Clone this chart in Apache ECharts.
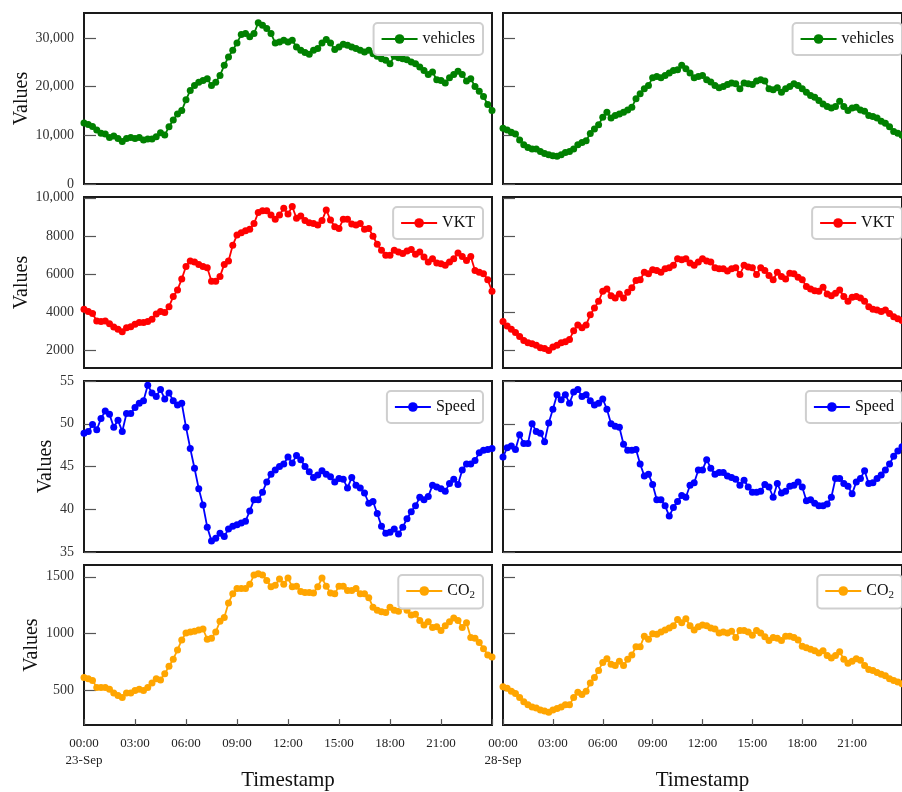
<!DOCTYPE html>
<html>
<head>
<meta charset="utf-8">
<script src="https://cdn.jsdelivr.net/npm/echarts@6/dist/echarts.min.js"></script>
<style>
  html, body { margin: 0; padding: 0; background: #fff; }
  #chart { width: 902px; height: 792px; }
</style>
</head>
<body>
<div id="chart"></div>
<script>
// Traffic indicators sampled every 15 minutes on two days (23-Sep and 28-Sep).
const dayLabels = ['23-Sep', '28-Sep'];
const hourTicks = [0, 3, 6, 9, 12, 15, 18, 21];
const hourTickLabels = ['00:00', '03:00', '06:00', '09:00', '12:00', '15:00', '18:00', '21:00'];

const vehiclesSep23 = [12500,12200,11800,11100,10400,10250,9560,9840,9360,8740,
  9360,9560,9360,9560,9010,9220,9220,9700,10530,10040,
  11760,13140,14380,15070,17270,19200,20230,20900,21260,21600,
  20230,20900,22290,24360,26080,27450,28960,30680,30890,30200,
  30890,33090,32600,31920,30890,28960,29170,29510,29170,29510,
  28140,27450,26970,26620,27450,27800,28960,29650,28960,27590,
  28140,28690,28480,28140,27800,27450,27110,27450,26760,26210,
  25730,25390,24700,26210,25940,25730,25520,25040,24700,24010,
  23320,22500,22980,21400,21260,20710,21810,22500,23120,22500,
  21120,21600,20020,19060,17960,16300,15070];
const vehiclesSep28 = [11420,11080,10600,10250,9010,8050,7500,7160,7160,6670,
  6260,5990,5780,5710,5990,6470,6670,7160,8050,8530,
  8880,10390,11280,12180,13690,14720,13550,14040,14380,14720,
  15200,15760,17480,18510,19540,20230,21810,22080,21810,22290,
  22770,23320,23460,24360,23670,22770,21810,22080,22290,21400,
  20920,20230,19750,20020,20430,20710,20570,19540,20710,20570,
  20430,21120,21400,21120,19540,19330,19750,18850,19540,20020,
  20570,20230,19540,18850,18160,17820,17130,16440,15890,15620,
  15890,16990,15890,15070,15620,15760,15200,14930,14040,13830,
  13550,12870,12450,11760,10800,10400,10000];

const vktSep23 = [4150,4030,3920,3530,3500,3530,3390,3210,3090,2970,
  3180,3220,3360,3450,3450,3500,3620,3890,4030,3980,
  4280,4810,5160,5740,6390,6680,6620,6500,6390,6320,
  5620,5620,5870,6500,6680,7510,8040,8160,8270,8340,
  8650,9220,9320,9320,9100,8870,9100,9450,9150,9540,
  8920,9040,8800,8690,8650,8570,8800,9360,8830,8480,
  8390,8870,8870,8620,8570,8650,8340,8390,7980,7560,
  7240,6980,6980,7240,7150,7070,7210,7280,7030,7150,
  6890,6620,6800,6570,6540,6450,6620,6800,7100,6920,
  6710,6920,6180,6090,6010,5690,5090];
const vktSep28 = [3500,3270,3090,2920,2710,2510,2390,2340,2260,2120,
  2090,1980,2160,2260,2390,2440,2560,3010,3320,3180,
  3320,3850,4210,4560,5090,5210,4860,4740,4950,4740,
  5040,5270,5650,5690,6090,6010,6220,6180,6090,6270,
  6320,6450,6800,6750,6800,6570,6450,6620,6800,6680,
  6620,6320,6270,6270,6150,6270,6320,5970,6450,6360,
  6320,5970,6320,6180,5920,5690,6090,5870,5740,6040,
  6010,5830,5690,5340,5210,5120,5090,5300,4950,4860,
  4980,5160,4810,4560,4770,4810,4740,4560,4280,4150,
  4100,4030,4100,3920,3750,3650,3550];

const speedSep23 = [48.9,49.1,49.9,49.3,50.6,51.5,51.1,49.6,50.4,49.1,
  51.2,51.2,51.9,52.4,52.7,54.5,53.6,53.2,54.0,52.9,
  53.6,52.7,52.2,52.4,49.6,47.1,44.8,42.4,40.5,37.9,
  36.3,36.6,37.2,36.8,37.7,38.0,38.2,38.4,38.6,39.8,
  41.1,41.1,42.0,43.2,44.1,44.6,45.0,45.3,46.1,45.4,
  46.3,45.8,45.0,44.4,43.7,44.0,44.5,44.1,43.8,43.2,
  43.6,43.5,42.5,43.7,42.8,42.5,41.9,40.7,40.9,39.5,
  38.0,37.2,37.3,37.7,37.1,37.9,38.9,39.7,40.4,41.4,
  41.1,41.5,42.8,42.6,42.4,42.1,43.0,43.5,42.9,44.6,
  45.3,45.3,45.7,46.6,46.9,47.0,47.1];
const speedSep28 = [46.1,47.2,47.4,47.0,48.7,47.7,47.7,50.0,49.1,48.9,
  47.9,50.1,51.7,53.4,52.8,53.4,52.4,53.7,54.0,53.2,
  53.4,52.7,52.2,52.4,52.9,51.7,50.0,49.7,49.6,47.6,
  46.9,46.9,47.0,45.3,43.9,44.1,42.9,41.1,41.1,40.4,
  39.2,40.2,40.9,41.6,41.4,42.8,43.1,44.6,44.6,45.8,
  44.8,44.1,44.3,44.3,43.9,43.7,43.5,42.8,43.4,42.6,
  42.0,42.0,42.1,42.9,42.6,41.4,43.0,41.9,42.1,42.7,
  42.8,43.2,42.6,41.0,41.1,40.7,40.4,40.4,40.6,41.4,
  43.6,43.6,43.0,42.7,41.8,43.2,43.6,44.5,43.0,43.1,
  43.6,44.0,44.6,45.3,46.2,46.8,47.3];

const co2Sep23 = [615,602,588,527,527,527,511,478,456,437,
  478,478,500,511,500,527,566,602,593,648,
  712,775,857,945,1005,1014,1022,1033,1041,951,
  959,1014,1110,1143,1269,1352,1398,1398,1398,1434,
  1516,1527,1516,1467,1412,1426,1481,1434,1489,1412,
  1418,1371,1363,1363,1357,1412,1489,1418,1357,1352,
  1418,1418,1379,1379,1398,1352,1352,1316,1233,1206,
  1192,1187,1233,1206,1198,1242,1206,1165,1170,1115,
  1077,1104,1055,1060,1027,1069,1104,1137,1115,1055,
  1096,967,959,923,868,813,795];
const co2Sep28 = [533,519,492,473,437,401,374,354,346,327,
  319,308,327,341,354,374,374,437,484,464,
  492,566,615,676,747,780,731,720,758,720,
  775,813,885,885,978,951,1000,995,1014,1033,
  1049,1069,1124,1096,1132,1069,1033,1060,1077,1069,
  1049,1041,1005,1014,1005,1022,967,1027,1027,1014,
  986,1027,1005,973,940,967,959,940,978,978,
  967,945,890,876,863,849,830,849,808,786,
  808,841,775,739,758,780,766,720,684,676,
  657,643,629,602,588,575,560];

// y-axis ticks and their labels for each indicator
const vehiclesTicks = [0, 10000, 20000, 30000];
const vehiclesTickLabels = ['0', '10,000', '20,000', '30,000'];
const vktTicks = [2000, 4000, 6000, 8000, 10000];
const vktTickLabels = ['2000', '4000', '6000', '8000', '10,000'];
const speedTicks = [35, 40, 45, 50, 55];
const speedTickLabels = ['35', '40', '45', '50', '55'];
const co2Ticks = [500, 1000, 1500];
const co2TickLabels = ['500', '1000', '1500'];

// sample times, in hours since midnight, at a 15-minute step
const sampleHours = vehiclesSep23.map((_, i) => i / 4);

const FONT = 'Liberation Serif';
const rows = [
  { name: 'vehicles', color: '#008000', days: [vehiclesSep23, vehiclesSep28],
    ticks: vehiclesTicks, labels: vehiclesTickLabels, min: 0, max: 35100, top: 13, nameGap: 46 },
  { name: 'VKT', color: '#ff0000', days: [vktSep23, vktSep28],
    ticks: vktTicks, labels: vktTickLabels, min: 1060, max: 10040, top: 197, nameGap: 46 },
  { name: 'Speed', color: '#0000ff', days: [speedSep23, speedSep28],
    ticks: speedTicks, labels: speedTickLabels, min: 35, max: 55, top: 381, nameGap: 27 },
  { name: 'CO2', color: '#ffa500', days: [co2Sep23, co2Sep28],
    ticks: co2Ticks, labels: co2TickLabels, min: 195, max: 1604, top: 565, nameGap: 40 }
];
const colLeft = [84, 503];
const plotW = 408, plotH = 171, chartW = 902;

const grid = [], xAxis = [], yAxis = [], series = [], legend = [];
rows.forEach((row, r) => {
  for (let c = 0; c < 2; c++) {
    const idx = grid.length;
    const isBottom = r === rows.length - 1;
    grid.push({
      left: colLeft[c], top: row.top, width: plotW, height: plotH,
      show: true, borderColor: '#1a1a1a', borderWidth: 2, backgroundColor: '#fff'
    });
    xAxis.push({
      type: 'value', gridIndex: idx, min: 0, max: 24,
      axisLine: { show: false },
      splitLine: { show: false },
      axisTick: {
        show: isBottom, inside: true, length: 6,
        customValues: hourTicks.concat([24]),
        lineStyle: { color: '#555', width: 1.2 }
      },
      axisLabel: {
        show: isBottom, margin: 10, customValues: hourTicks,
        fontFamily: FONT, fontSize: 13, color: '#222', lineHeight: 17,
        formatter: v => {
          const k = hourTicks.indexOf(v);
          const t = hourTickLabels[k];
          return k === 0 ? t + '\n' + dayLabels[c] : t;
        }
      },
      name: isBottom ? 'Timestamp' : '',
      nameLocation: 'middle', nameGap: 35,
      nameTextStyle: { fontFamily: FONT, fontSize: 21, color: '#111' }
    });
    yAxis.push({
      type: 'value', gridIndex: idx, min: row.min, max: row.max,
      axisLine: { show: false },
      splitLine: { show: false },
      axisTick: {
        show: true, inside: true, length: 12, customValues: row.ticks,
        lineStyle: { color: '#555', width: 1.2 }
      },
      axisLabel: {
        show: c === 0, customValues: row.ticks, margin: 10,
        fontFamily: FONT, fontSize: 14, color: '#333',
        formatter: v => row.labels[row.ticks.indexOf(v)]
      },
      name: c === 0 ? 'Values' : '',
      nameLocation: 'middle', nameGap: row.nameGap, nameRotate: 90,
      nameTextStyle: { fontFamily: FONT, fontSize: 20, color: '#111' }
    });
    series.push({
      name: row.name, type: 'line', xAxisIndex: idx, yAxisIndex: idx,
      data: row.days[c].map((v, i) => [sampleHours[i], v]),
      symbol: 'circle', symbolSize: 7, showSymbol: true,
      itemStyle: { color: row.color },
      lineStyle: { color: row.color, width: 1.8 },
      animation: false, clip: true
    });
    legend.push({
      data: [row.name],
      right: chartW - (colLeft[c] + plotW) + 9,
      top: row.top + 10,
      orient: 'horizontal',
      itemWidth: 36, itemHeight: 12,
      padding: [8, 8, 8, 7],
      borderColor: '#cfcfcf', borderWidth: 2, borderRadius: 4,
      backgroundColor: '#fff',
      selectedMode: false,
      textStyle: {
        fontFamily: FONT, fontSize: 16, color: '#111',
        rich: {
          b: { fontFamily: FONT, fontSize: 16, color: '#111' },
          s: { fontFamily: FONT, fontSize: 11, color: '#111', padding: [8, 0, 0, 0] }
        }
      },
      formatter: n => n === 'CO2' ? '{b|CO}{s|2}' : n
    });
  }
});

const chart = echarts.init(document.getElementById('chart'), null, { renderer: 'canvas' });
chart.setOption({
  animation: false,
  backgroundColor: '#fff',
  grid, xAxis, yAxis, series, legend
});
</script>
</body>
</html>
